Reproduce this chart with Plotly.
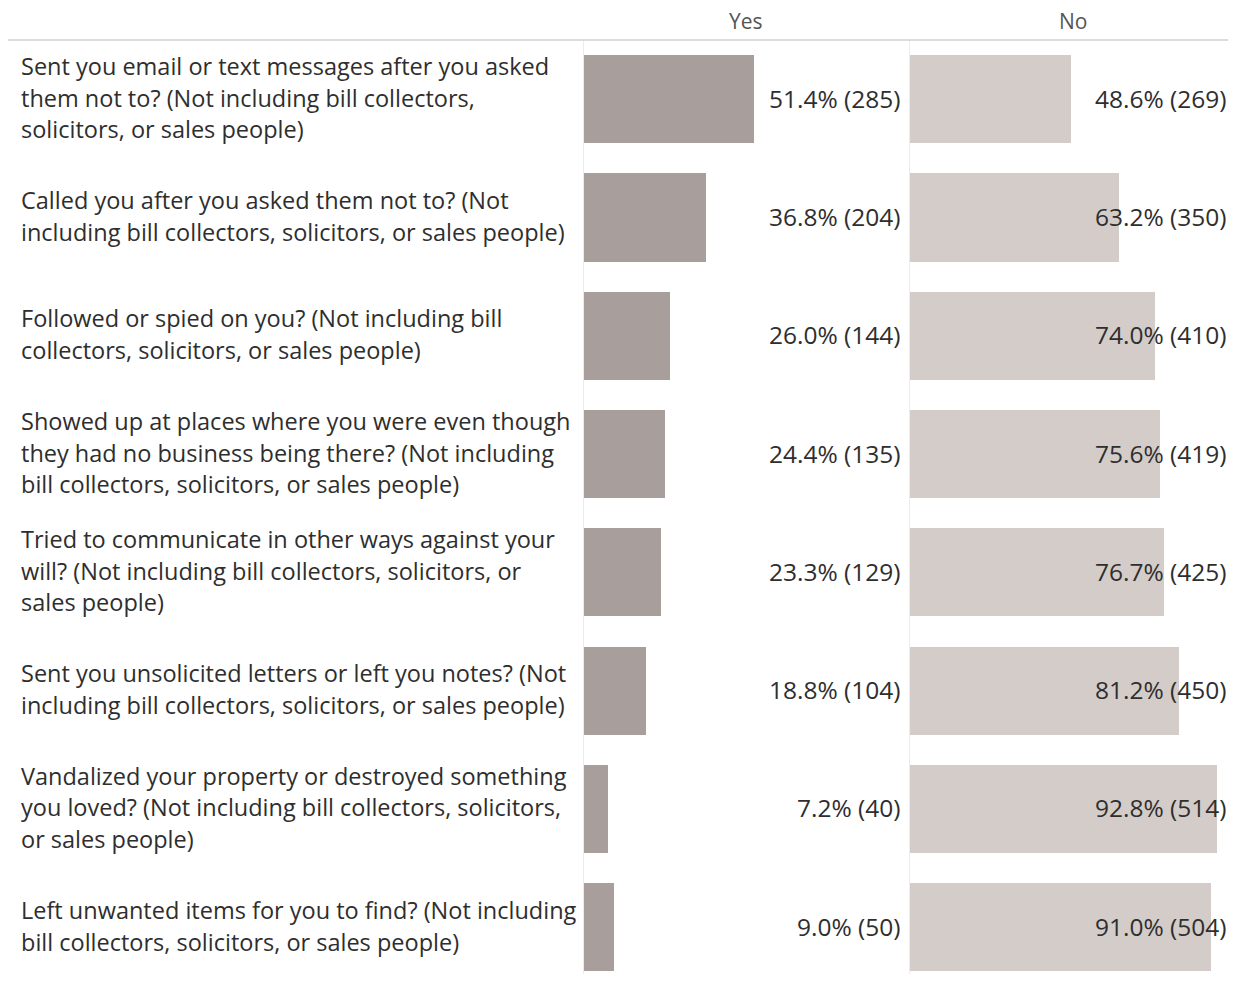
import plotly.graph_objects as go
from plotly.subplots import make_subplots

# ── Data ──────────────────────────────────────────────────────────────────────

questions = [
    "Sent you email or text messages after you asked<br>them not to? (Not including bill collectors,<br>solicitors, or sales people)",
    "Called you after you asked them not to? (Not<br>including bill collectors, solicitors, or sales people)",
    "Followed or spied on you? (Not including bill<br>collectors, solicitors, or sales people)",
    "Showed up at places where you were even though<br>they had no business being there? (Not including<br>bill collectors, solicitors, or sales people)",
    "Tried to communicate in other ways against your<br>will? (Not including bill collectors, solicitors, or<br>sales people)",
    "Sent you unsolicited letters or left you notes? (Not<br>including bill collectors, solicitors, or sales people)",
    "Vandalized your property or destroyed something<br>you loved? (Not including bill collectors, solicitors,<br>or sales people)",
    "Left unwanted items for you to find? (Not including<br>bill collectors, solicitors, or sales people)",
]
yes_pct = [51.4, 36.8, 26.0, 24.4, 23.3, 18.8, 7.2, 9.0]
yes_n = [285, 204, 144, 135, 129, 104, 40, 50]
no_pct = [48.6, 63.2, 74.0, 75.6, 76.7, 81.2, 92.8, 91.0]
no_n = [269, 350, 410, 419, 425, 450, 514, 504]

YES_COLOR = "#a89f9c"
NO_COLOR = "#d4ccc9"
TEXT = "#2e2e2e"
FONT = "Open Sans, Arial, sans-serif"

W, H = 1220, 966      # body has an 8px margin in the page
TOP = 32
ROW_PX = 118.3
LINE_H = 31.6

# ── Figure ────────────────────────────────────────────────────────────────────

fig = make_subplots(rows=1, cols=2, shared_yaxes=True, horizontal_spacing=0)

ids = list(range(len(questions)))
for col, pct, n, color in [(1, yes_pct, yes_n, YES_COLOR), (2, no_pct, no_n, NO_COLOR)]:
    fig.add_trace(go.Bar(
        x=[p / 100 for p in pct], y=ids, orientation="h",
        width=0.745, marker=dict(color=color, line=dict(width=0)),
        hoverinfo="skip", showlegend=False,
    ), row=1, col=col)
    xref = "x domain" if col == 1 else "x2 domain"
    for i, (p, c) in enumerate(zip(pct, n)):
        fig.add_annotation(
            x=1, y=i, xref=xref, yref="y", xanchor="right", yshift=1,
            xshift=-7 if col == 1 else 1,
            text=f"{p:.1f}% ({c})", showarrow=False,
            font=dict(size=24.5, color=TEXT, family=FONT),
        )

# Row labels, one annotation per line so the line spacing matches
for i, q in enumerate(questions):
    lines = q.split("<br>")
    for k, line in enumerate(lines):
        fig.add_annotation(
            x=11 / W, y=i, xref="paper", yref="y", xanchor="left", yanchor="middle",
            yshift=((len(lines) - 1) / 2 - k) * LINE_H + 1.5,
            text=line, showarrow=False, align="left",
            font=dict(size=23.5, color=TEXT, family=FONT),
        )

# Column headers
for label, xc in [("Yes", 738), ("No", 1065)]:
    fig.add_annotation(
        x=xc / W, y=1, xref="paper", yref="paper", xanchor="center", yanchor="middle",
        yshift=19, text=label, showarrow=False,
        font=dict(size=21, color="#555555", family=FONT),
    )

fig.add_shape(type="line", xref="paper", yref="paper", x0=0, x1=1, y0=1, y1=1,
              line=dict(color="#d0d0d0", width=1.5))

px_per_unit = 331
fig.update_xaxes(row=1, col=1, domain=[576 / W, 902 / W], range=[0, 326 / px_per_unit])
fig.update_xaxes(row=1, col=2, domain=[902 / W, 1.0], range=[0, 318 / px_per_unit])
fig.update_xaxes(showgrid=False, zeroline=False, showticklabels=False, fixedrange=True)

fig.update_yaxes(
    range=[(H - TOP) / ROW_PX - 0.5, -0.5],
    showgrid=False, zeroline=False, showticklabels=False,
    showline=True, linecolor="#ececec", linewidth=1, fixedrange=True,
)

fig.update_layout(
    width=W, height=H,
    margin=dict(l=0, r=0, t=TOP, b=0),
    plot_bgcolor="white", paper_bgcolor="white",
    bargap=0, font=dict(family=FONT, color=TEXT),
)

fig.write_html("out.html")
